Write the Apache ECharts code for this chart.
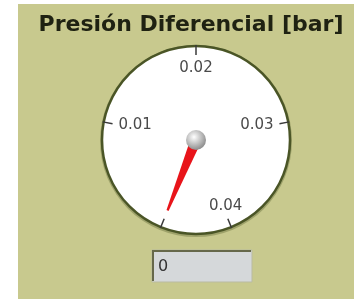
<!DOCTYPE html>
<html><head><meta charset="utf-8">
<script src="https://cdn.jsdelivr.net/npm/echarts@6/dist/echarts.min.js"></script>
<style>html,body{margin:0;padding:0;background:#fff}#c{width:359px;height:299px}</style>
</head><body><div id="c"></div>
<script>
var titleText = 'Presión Diferencial [bar]';
var scaleMin = 0;
var scaleMax = 0.04;
var scaleSteps = 4;
var needleValue = [0];

var chart = echarts.init(document.getElementById('c'), null, {renderer: 'canvas'});
var cx = 196, cy = 140, R = 94;
chart.setOption({
  animation: false,
  backgroundColor: '#ffffff',
  graphic: [
    {type: 'rect', z: -10, shape: {x: 18, y: 4, width: 336, height: 295}, style: {fill: '#c8c98e'}},
    {type: 'text', z: 10, x: 191, y: 25, style: {text: titleText, font: 'bold 22px "DejaVu Sans", sans-serif', fill: '#1f2212', textAlign: 'center', textVerticalAlign: 'middle'}},
    {type: 'circle', z: -5, shape: {cx: cx, cy: cy + 1, r: R + 2}, style: {fill: 'rgba(80,90,40,0.35)'}},
    {type: 'circle', z: -4, shape: {cx: cx, cy: cy, r: R}, style: {fill: '#ffffff', stroke: '#4a5526', lineWidth: 2.5}},
    {type: 'rect', z: -3, shape: {x: 152, y: 250, width: 100, height: 32}, style: {fill: '#d5d8da', stroke: '#b9bba0', lineWidth: 1}},
    {type: 'polyline', z: -2, shape: {points: [[153, 281], [153, 251], [251, 251]]}, style: {stroke: '#66684a', lineWidth: 2, fill: null}}
  ],
  series: [{
    type: 'gauge',
    center: [cx, cy],
    radius: R,
    startAngle: 248,
    endAngle: -68,
    min: scaleMin,
    max: scaleMax,
    splitNumber: scaleSteps,
    axisLine: {show: true, lineStyle: {width: 1, color: [[1, 'rgba(0,0,0,0)']]}},
    axisTick: {show: false},
    splitLine: {show: true, distance: -2, length: 10, lineStyle: {color: '#3a3a3a', width: 1.5}},
    axisLabel: {
      distance: 7,
      color: '#4a4a4a',
      fontSize: 15,
      fontFamily: '"DejaVu Sans", sans-serif',
      formatter: function (v) { return v === 0 ? '' : v.toFixed(2); }
    },
    pointer: {
      show: true,
      icon: 'path://M4,0 L6,0 L10,100 L0,100 Z',
      length: 76,
      width: 11,
      itemStyle: {color: '#e8141a'}
    },
    anchor: {
      show: true, showAbove: true, size: 20,
      itemStyle: {color: new echarts.graphic.RadialGradient(0.4, 0.35, 0.65, [{offset: 0, color: '#ffffff'}, {offset: 1, color: '#8e8e8e'}])}
    },
    title: {show: false},
    detail: {
      show: true,
      offsetCenter: [-33, 127],
      formatter: function (v) { return String(v); },
      color: '#333333',
      fontSize: 16,
      fontWeight: 'normal',
      fontFamily: '"DejaVu Sans", sans-serif'
    },
    data: [{value: needleValue[0]}]
  }]
});
</script></body></html>
